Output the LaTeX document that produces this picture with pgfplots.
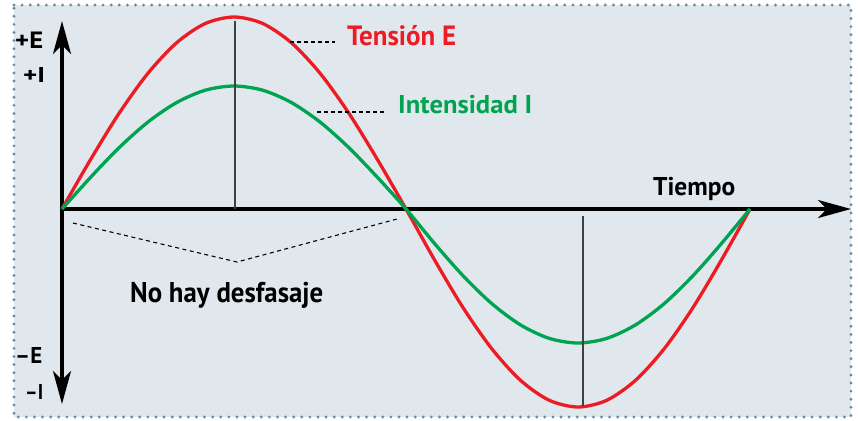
\documentclass[border=0pt]{standalone}
\usepackage{fontspec}
\setmainfont{PT Sans}
\usepackage{graphicx}
\usepackage{pgfplots}
\pgfplotsset{compat=1.18}
\usetikzlibrary{arrows.meta}
\definecolor{bgc}{RGB}{224,232,237}
\definecolor{dotc}{RGB}{110,140,160}
\definecolor{redc}{RGB}{237,28,36}
\definecolor{greenc}{RGB}{0,163,80}
\newcommand{\fit}[3]{\resizebox{#1bp}{#2bp}{\bfseries\smash{#3}\vphantom{E}}}
\begin{document}
\begin{tikzpicture}
\begin{axis}[
  x=1bp, y=1bp, xmin=0, xmax=858, ymin=0, ymax=420, y dir=reverse,
  hide axis, clip=false, scale only axis,
]
% background
\fill[white] (axis cs:0,0) rectangle (axis cs:858,420);
\fill[bgc] (axis cs:14,5) rectangle (axis cs:851,417);
\draw[dotc, line width=3.2bp, line cap=round, dash pattern=on 0bp off 8.1bp]
  (axis cs:14,5) -- (axis cs:851,5) -- (axis cs:851,417) -- (axis cs:14,417) -- cycle;
% axes
\draw[line width=3.2bp, -{Stealth[length=33bp,width=18bp,inset=9bp]}]
  (axis cs:62,209) -- (axis cs:851,209);
\draw[line width=3.2bp, {Stealth[length=33bp,width=18bp,inset=9bp]}-{Stealth[length=33bp,width=18bp,inset=9bp]}]
  (axis cs:62,404) -- (axis cs:62,21);
% curves
\addplot[redc, line width=3.3bp, smooth] coordinates {
(62,209) (90.7,159.3) (119.3,113) (148,73.2) (176.7,42.7) (205.3,23.5) (234,17)
(262.7,23.5) (291.3,42.7) (320,73.2) (348.7,113) (377.3,159.3) (406,209)
(434.7,260.2) (463.3,308) (492,349) (520.7,380.5) (549.3,400.3) (578,407)
(606.7,400.3) (635.3,380.5) (664,349) (692.7,308) (721.3,260.2) (750,209)
};
\addplot[greenc, line width=3.3bp, smooth] coordinates {
(62,209) (90.7,177.2) (119.3,147.5) (148,122) (176.7,102.5) (205.3,90.2) (234,86)
(262.7,90.2) (291.3,102.5) (320,122) (348.7,147.5) (377.3,177.2) (406,209)
(434.7,243.7) (463.3,276) (492,303.8) (520.7,325) (549.3,338.4) (578,343)
(606.7,338.4) (635.3,325) (664,303.8) (692.7,276) (721.3,243.7) (750,209)
};
% thin vertical lines
\draw[black!75, line width=1.4bp] (axis cs:235,21) -- (axis cs:235,209);
\draw[black!75, line width=1.4bp] (axis cs:583,216) -- (axis cs:583,406);
% dashed leaders
\draw[black, line width=1.1bp, dash pattern=on 4bp off 3bp] (axis cs:290,42) -- (axis cs:335,42);
\draw[black, line width=1.1bp, dash pattern=on 4bp off 3bp] (axis cs:317,112) -- (axis cs:387,112);
\draw[black, line width=1.1bp, dash pattern=on 4bp off 3.5bp] (axis cs:73,223) -- (axis cs:237,262) -- (axis cs:397,219);
% labels
\node[anchor=base west, inner sep=0, text=redc] at (axis cs:347,45) {\fit{109}{19.5}{Tensión E}};
\node[anchor=base west, inner sep=0, text=greenc] at (axis cs:398,113) {\fit{134}{18}{Intensidad I}};
\node[anchor=base west, inner sep=0] at (axis cs:653,195) {\fit{82}{18}{Tiempo}};
\node[anchor=base west, inner sep=0] at (axis cs:130,302) {\fit{193}{20}{No hay desfasaje}};
\node[anchor=base west, inner sep=0] at (axis cs:15,48) {\fit{28}{16.5}{+E}};
\node[anchor=base west, inner sep=0] at (axis cs:23,82) {\fit{22}{15}{+I}};
\node[anchor=base west, inner sep=0] at (axis cs:15,363) {\fit{27}{16}{–E}};
\node[anchor=base west, inner sep=0] at (axis cs:25,399) {\fit{18}{15}{–I}};
\end{axis}
\end{tikzpicture}
\end{document}
